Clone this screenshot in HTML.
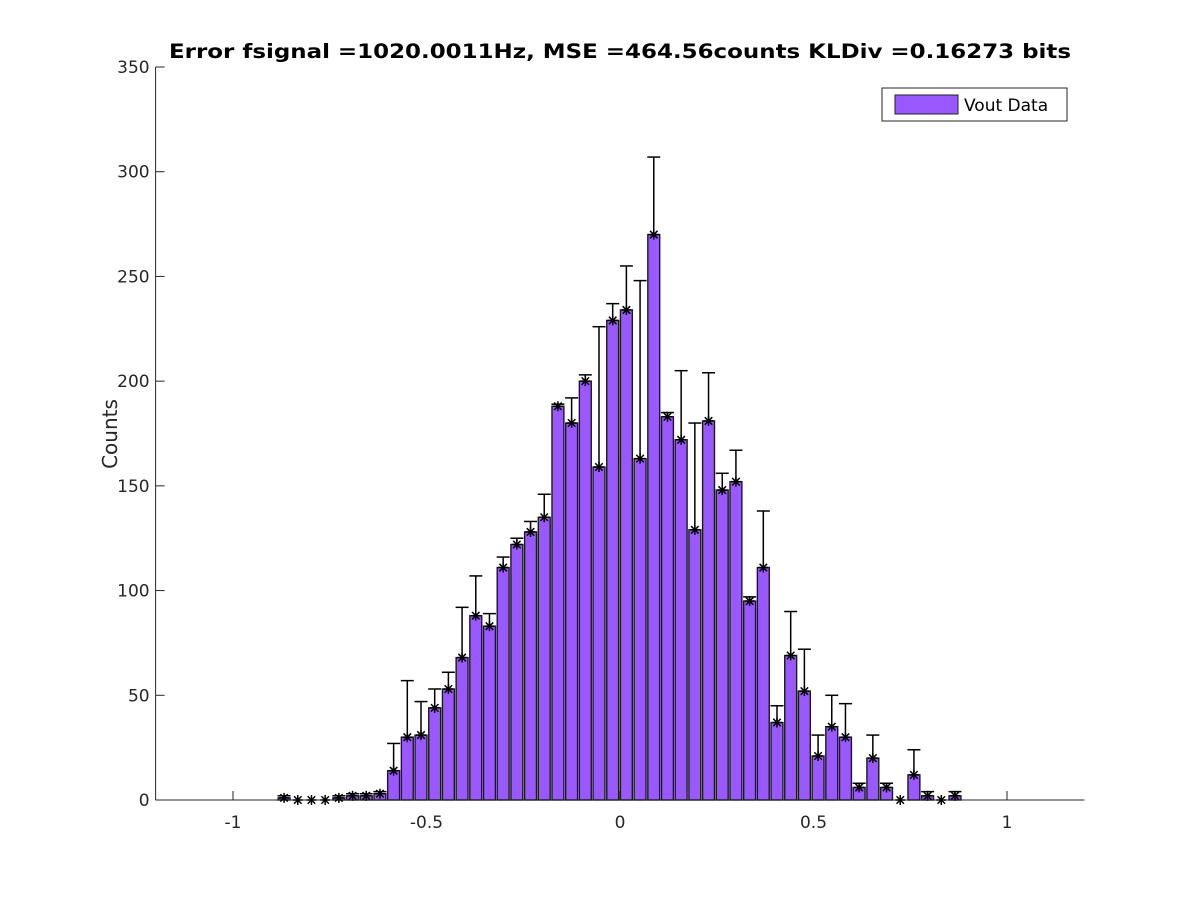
<!DOCTYPE html>
<html><head><meta charset="utf-8"><style>
body{margin:0;background:#fff;}
svg text{font-family:"DejaVu Sans","Liberation Sans",sans-serif;fill:#262626;}
</style></head><body>
<svg id="chart" width="1200" height="900" viewBox="0 0 1200 900" xmlns="http://www.w3.org/2000/svg">
<rect width="1200" height="900" fill="#fff"/>
<text x="620" y="58" text-anchor="middle" font-size="19.5" font-weight="bold" textLength="902" lengthAdjust="spacingAndGlyphs" style="fill:#000">Error fsignal =1020.0011Hz, MSE =464.56counts KLDiv =0.16273 bits</text>
<text transform="translate(117,434) rotate(-90)" text-anchor="middle" font-size="20">Counts</text>
<g id="axes"></g>
<g id="bars"></g>
<g id="errs"></g>
<g id="stars"></g>
<g>
<rect x="882" y="88" width="185" height="33" fill="#fff" stroke="#262626" stroke-width="1"/>
<rect x="895" y="95" width="63" height="19" fill="#9a58ff" stroke="#222" stroke-width="1"/>
<text x="964" y="111" font-size="17" style="fill:#000">Vout Data</text>
</g>
</svg>
<script>
const binStart = -0.868;
const binWidth = 0.03538;
const counts = [1,0,0,0,1,2,2,3,14,30,31,44,53,68,88,83,111,122,128,135,188,180,200,159,229,234,163,270,183,172,129,181,148,152,95,111,37,69,52,21,35,30,6,20,6,0,12,2,0,2];
const errTop = [2,0,0,0,2,3,3,4,27,57,47,53,61,92,107,89,116,125,133,146,189,192,203,226,237,255,248,307,185,205,180,204,156,167,97,138,45,90,72,31,50,46,8,31,8,0,24,4,0,4];
const xTicks = [-1,-0.5,0,0.5,1];
const xTickLabels = ["-1","-0.5","0","0.5","1"];
const yTicks = [0,50,100,150,200,250,300,350];
const NS='http://www.w3.org/2000/svg';
const X0=155.6,X1=1084.4,XMIN=-1.2,XMAX=1.2,Y0=800,Y1=67,YMAX=350;
const xs=v=>X0+(v-XMIN)/(XMAX-XMIN)*(X1-X0);
const ys=v=>Y0-v/YMAX*(Y0-Y1);
function mk(tag,attrs,parent){const e=document.createElementNS(NS,tag);for(const k in attrs)e.setAttribute(k,attrs[k]);parent.appendChild(e);return e;}
const axes=document.getElementById('axes');
let l=mk('line',{x1:X0,y1:Y0,x2:X1,y2:Y0,stroke:'#262626','stroke-width':1},axes);


l=mk('line',{x1:X0,y1:Y0,x2:X0,y2:Y1,stroke:'#262626','stroke-width':1},axes);


xTicks.forEach((v,i)=>{const x=xs(v);
 mk('line',{x1:x,y1:Y0,x2:x,y2:Y0-9,stroke:'#262626'},axes);
 const t=mk('text',{x:x,y:Y0+28,'text-anchor':'middle','font-size':17},axes);t.textContent=xTickLabels[i];
 
 });
yTicks.forEach(v=>{const y=ys(v);
 mk('line',{x1:X0,y1:y,x2:X0+9,y2:y,stroke:'#262626'},axes);
 const t=mk('text',{x:X0-6,y:y+6,'text-anchor':'end','font-size':17},axes);t.textContent=String(v);
 
 });
const bars=document.getElementById('bars'),errs=document.getElementById('errs'),stars=document.getElementById('stars');
const bw=binWidth*0.87;
counts.forEach((c,i)=>{const cx=binStart+i*binWidth;const px=xs(cx);
 if(c>0){const r=mk('rect',{x:xs(cx-bw/2),y:ys(c),width:xs(cx+bw/2)-xs(cx-bw/2),height:ys(0)-ys(c),fill:'#9a58ff',stroke:'#1a1a1a','stroke-width':1.4},bars);
 
 }
 const et=errTop[i];
 if(et>c){const g=mk('g',{stroke:'#000','stroke-width':1.5},errs);
  
  
  mk('line',{x1:px,y1:ys(c),x2:px,y2:ys(et)},g);
  mk('line',{x1:px-6.5,y1:ys(et),x2:px+6.5,y2:ys(et)},g);}
 const y=ys(c),s=5;const g=mk('g',{stroke:'#000','stroke-width':1.5},stars);
 
 
 mk('line',{x1:px-s,y1:y,x2:px+s,y2:y},g);
 mk('line',{x1:px,y1:y-s,x2:px,y2:y+s},g);
 mk('line',{x1:px-s*0.75,y1:y-s*0.75,x2:px+s*0.75,y2:y+s*0.75},g);
 mk('line',{x1:px-s*0.75,y1:y+s*0.75,x2:px+s*0.75,y2:y-s*0.75},g);
});
</script>
</body></html>
